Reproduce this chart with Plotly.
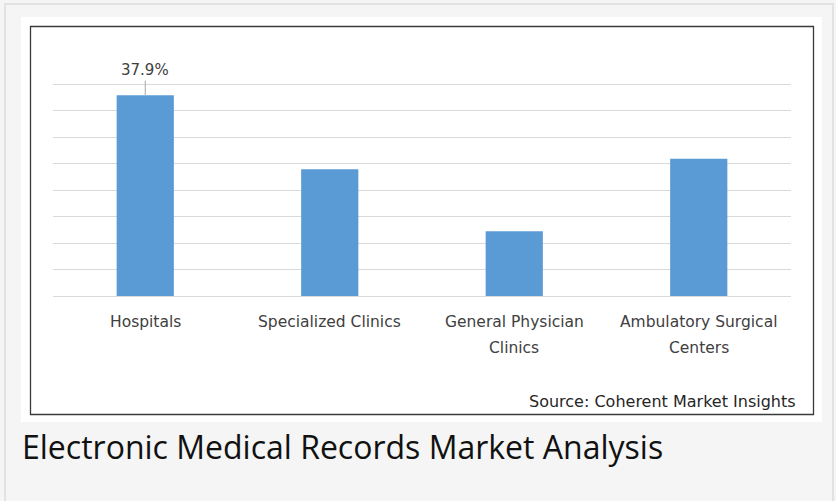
import plotly.graph_objects as go

categories = ["Hospitals", "Specialized Clinics", "General Physician Clinics", "Ambulatory Surgical Centers"]
values = [37.9, 23.9, 12.2, 25.9]
label_line1 = ["Hospitals", "Specialized Clinics", "General Physician", "Ambulatory Surgical"]
label_line2 = ["", "", "Clinics", "Centers"]
title_text = "Electronic Medical Records Market Analysis"
source_text = "Source: Coherent Market Insights"

W, H = 836, 501
L, R, T, B = 53, 45, 79, 205
PW, PH = W - L - R, H - T - B
YMAX = PH / 5.3


def px(x):
    return (x - L) / PW


def py(y):
    return (H - B - y) / PH


fig = go.Figure()
fig.add_trace(go.Bar(
    x=categories, y=values,
    marker=dict(color="#5b9bd5", line=dict(width=0)),
    width=0.31, hoverinfo="x+y",
))

font_lbl = "DejaVu Sans, Verdana, sans-serif"
font_title = "Open Sans, Noto Sans, sans-serif"
annotations = []
for cat, l1, l2 in zip(categories, label_line1, label_line2):
    annotations.append(dict(x=cat, xref="x", y=py(322), yref="paper", text=l1,
                            showarrow=False, xanchor="center", yanchor="middle",
                            font=dict(family=font_lbl, size=15.5, color="#404040")))
    if l2:
        annotations.append(dict(x=cat, xref="x", y=py(348), yref="paper", text=l2,
                                showarrow=False, xanchor="center", yanchor="middle",
                                font=dict(family=font_lbl, size=15.5, color="#404040")))

annotations.append(dict(x=categories[0], xref="x", y=values[0], yref="y",
                        text=f"{values[0]}%", showarrow=True, arrowhead=0,
                        arrowwidth=1, arrowcolor="#a6a6a6", ax=0, ay=-25,
                        font=dict(family=font_lbl, size=15, color="#404040")))
annotations.append(dict(x=px(798), xref="paper", y=py(401), yref="paper",
                        text=source_text, showarrow=False, xanchor="right", yanchor="middle",
                        font=dict(family=font_lbl, size=16, color="#262626")))
annotations.append(dict(x=px(20), xref="paper", y=py(446), yref="paper",
                        text=title_text, showarrow=False, xanchor="left", yanchor="middle",
                        font=dict(family=font_title, size=32, color="#111111")))

shapes = [
    dict(type="rect", xref="paper", yref="paper", x0=px(5), x1=px(833), y0=py(505), y1=py(4),
         line=dict(color="#e2e2e2", width=2), fillcolor="#f5f5f5", layer="below"),
    dict(type="rect", xref="paper", yref="paper", x0=px(21), x1=px(822), y0=py(422), y1=py(17),
         line=dict(width=0), fillcolor="#ffffff", layer="below"),
    dict(type="rect", xref="paper", yref="paper", x0=px(30.5), x1=px(813.5), y0=py(414.5), y1=py(26.5),
         line=dict(color="#3a3a3a", width=1.3), fillcolor="rgba(0,0,0,0)", layer="below"),
]

fig.update_layout(
    width=W, height=H,
    margin=dict(l=L, r=R, t=T, b=B, pad=0),
    paper_bgcolor="#f5f5f5",
    plot_bgcolor="rgba(0,0,0,0)",
    showlegend=False,
    bargap=0.69,
    annotations=annotations,
    shapes=shapes,
    xaxis=dict(showticklabels=False, showgrid=False, showline=True, linecolor="#d9d9d9",
               linewidth=1, ticks="", zeroline=False, range=[-0.5, 3.5]),
    yaxis=dict(range=[0, YMAX], dtick=5, tick0=0, showgrid=True, gridcolor="#d9d9d9", gridwidth=1,
               showticklabels=False, ticks="", zeroline=False, showline=False),
)

fig.write_html("out.html", config={"displayModeBar": False},
               post_script="document.body.style.margin='0px';document.body.style.background='#f5f5f5';")
